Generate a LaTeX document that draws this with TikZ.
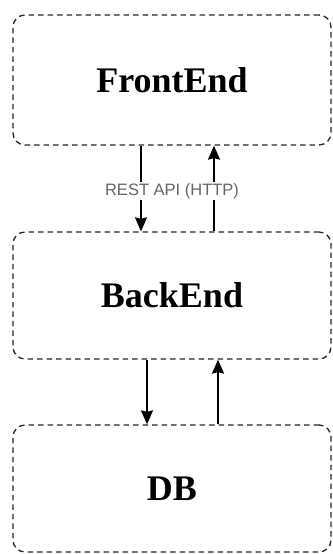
\documentclass[tikz,border=0pt]{standalone}
\usepackage{fontspec}
\setmainfont{Liberation Serif}
\newfontfamily\apifont{Liberation Sans}
\usetikzlibrary{arrows.meta}
\begin{document}
\begin{tikzpicture}[x=1pt,y=-1pt,
  tier/.style={draw=black!85,line width=1.3pt,dash pattern=on 5.5pt off 4pt,
    rounded corners=12pt,minimum width=318pt,inner sep=0pt,
    font=\bfseries\fontsize{36}{36}\selectfont},
  call/.style={-{Stealth[length=14pt,width=12pt,inset=1.5pt]},line width=1.5pt}]
\useasboundingbox (0,0) rectangle (332,554);
\node[tier,minimum height=130pt] (front) at (172,80) {FrontEnd};
\node[tier,minimum height=127pt] (back) at (172,295.5) {BackEnd};
\node[tier,minimum height=127pt] (db) at (172,488.5) {DB};
% requests go down, answers come back up
\draw[call] ([xshift=-31pt]front.south) -- ([xshift=-31pt]back.north);
\draw[call] ([xshift=42pt]back.north) -- ([xshift=42pt]front.south);
\draw[call] ([xshift=-25pt]back.south) -- ([xshift=-25pt]db.north);
\draw[call] ([xshift=46pt]db.north) -- ([xshift=46pt]back.south);
\node[fill=white,text=black!60,inner sep=1pt,
  font=\apifont\fontsize{16.5}{17}\selectfont] (api) at (172,191) {REST API (HTTP)};
\end{tikzpicture}
\end{document}
